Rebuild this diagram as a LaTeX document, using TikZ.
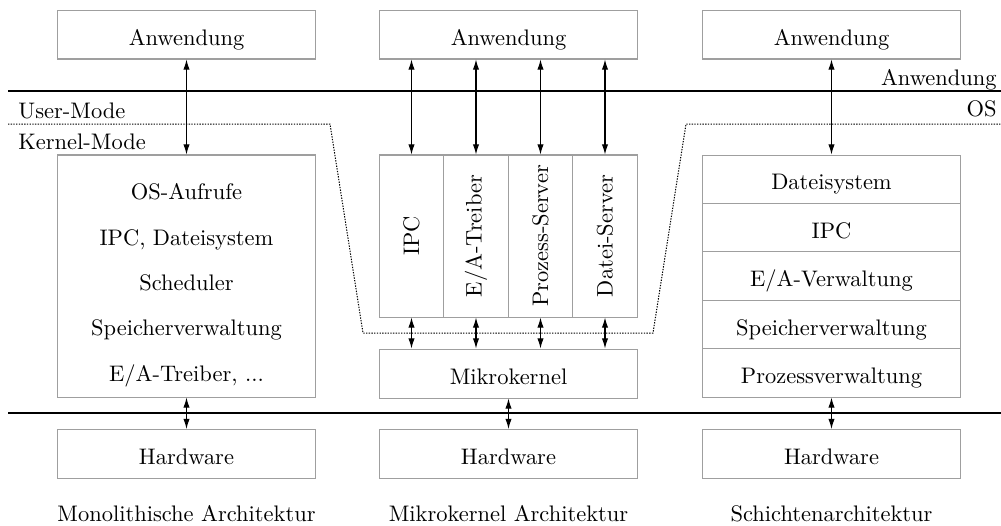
\documentclass[tikz,border=0pt]{standalone}
\usepackage{graphicx}
\usetikzlibrary{arrows.meta}
\begin{document}
\begin{tikzpicture}[x=0.445pt,y=-0.445pt,
 frame/.style={draw=gray!75, line width=0.45pt, inner sep=0pt},
 box/.style={frame, minimum width=114.8pt, minimum height=21.8pt, text height=9.5pt, text depth=0pt},
 col/.style={frame, minimum width=28.9pt, minimum height=72.1pt},
 row/.style={frame, minimum width=114.8pt, minimum height=21.54pt, text height=9.5pt, text depth=0pt},
 arr/.style={{Latex[length=4.5pt,width=2.8pt]}-{Latex[length=4.5pt,width=2.8pt]}, line width=0.5pt},
 sep/.style={line width=1.2pt},
 mode/.style={dash pattern=on 0.6pt off 0.6pt, line width=0.45pt},
 lbl/.style={inner sep=0pt}]
\useasboundingbox (0,0) rectangle (1001,525);

% separators
\draw[sep] (8,91) -- (1001,91);
\draw[sep] (8,413) -- (1001,413);
\draw[mode] (8,124) -- (330,124) -- (363,333) -- (653,333) -- (686,124) -- (1001,124);

\node[lbl, anchor=base east] (lAnw) at (997,85) {Anwendung};
\node[lbl, anchor=base east] (lOS) at (997,116) {OS};
\node[lbl, anchor=base west] (lUser) at (18,118) {User-Mode};
\node[lbl, anchor=base west] (lKern) at (18,149) {Kernel-Mode};

% top application boxes
\node[box] (appL) at (186.5,34.5) {Anwendung};
\node[box] (appM) at (508.5,34.5) {Anwendung};
\node[box] (appR) at (831.5,34.5) {Anwendung};

% monolithic
\node[frame, minimum width=114.8pt, minimum height=107.7pt] (mono) at (186.5,276) {};
\node[lbl, anchor=base] (m1) at (186.5,199) {OS-Aufrufe};
\node[lbl, anchor=base] (m2) at (186.5,245) {IPC, Dateisystem};
\node[lbl, anchor=base] (m3) at (186.5,290) {Scheduler};
\node[lbl, anchor=base] (m4) at (186.5,335) {Speicherverwaltung};
\node[lbl, anchor=base] (m5) at (186.5,381) {E/A-Treiber, ...};

% microkernel
\node[col] (ipc) at (411.5,236) {\rotatebox{90}{IPC}};
\node[col] (eat) at (476,236) {\rotatebox{90}{E/A-Treiber}};
\node[col] (pse) at (540.5,236) {\rotatebox{90}{Prozess-Server}};
\node[col] (dse) at (605,236) {\rotatebox{90}{Datei-Server}};
\node[box] (mk) at (508.5,373.5) {Mikrokernel};

% layered
\node[row] (r1) at (831.5,179.2) {Dateisystem};
\node[row] (r2) at (831.5,227.6) {IPC};
\node[row] (r3) at (831.5,276) {E/A-Verwaltung};
\node[row] (r4) at (831.5,324.4) {Speicherverwaltung};
\node[row] (r5) at (831.5,372.8) {Prozessverwaltung};

% hardware
\node[box] (hwL) at (186.5,454) {Hardware};
\node[box] (hwM) at (508.5,454) {Hardware};
\node[box] (hwR) at (831.5,454) {Hardware};

% captions
\node[lbl, anchor=base] (cL) at (186.5,521) {Monolithische Architektur};
\node[lbl, anchor=base] (cM) at (508.5,521) {Mikrokernel Architektur};
\node[lbl, anchor=base] (cR) at (831.5,521) {Schichtenarchitektur};

% arrows
\draw[arr] (appL.south) -- (mono.north);
\draw[arr] (mono.south) -- (hwL.north);
\foreach \n in {ipc,eat,pse,dse}{
  \draw[arr] (\n.north |- appM.south) -- (\n.north);
  \draw[arr] (\n.south) -- (\n.south |- mk.north);
}
\draw[arr] (mk.south) -- (hwM.north);
\draw[arr] (appR.south) -- (r1.north);
\draw[arr] (r5.south) -- (hwR.north);
\end{tikzpicture}
\end{document}
